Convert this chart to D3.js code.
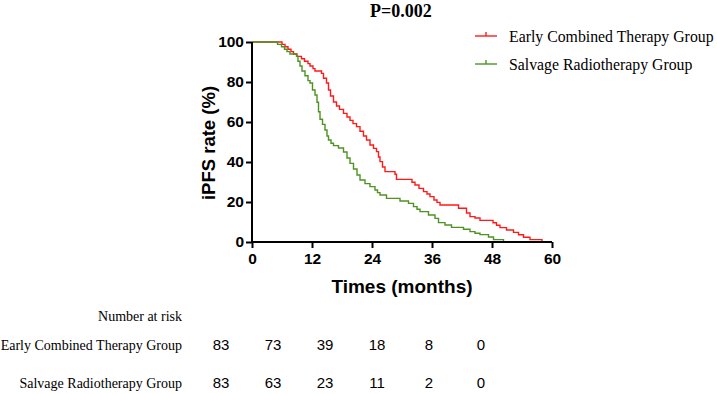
<!DOCTYPE html>
<html>
<head>
<meta charset="utf-8">
<script src="https://d3js.org/d3.v7.min.js"></script>
<style>
body { margin: 0; background: #fff; }
</style>
</head>
<body>
<svg width="717" height="394"></svg>
<script>
// Kaplan-Meier steps: [month, survival % after the step]
var earlyTimes = [0, 6.0, 6.6, 7.2, 7.8, 8.3, 9.0, 9.9, 10.5, 11.2, 11.6, 12.2, 12.6, 13.9, 14.3, 14.9, 15.3, 15.7, 16.3, 16.9, 17.5, 18.3, 19.0, 19.6, 20.2, 20.9, 21.6, 22.3, 22.9, 23.6, 24.3, 24.9, 25.3, 25.6, 26.1, 26.6, 28.6, 28.9, 32.0, 32.6, 33.4, 34.3, 35.0, 35.6, 36.4, 37.0, 37.6, 41.3, 42.9, 43.6, 44.6, 45.6, 48.2, 48.9, 49.6, 50.9, 52.3, 53.3, 54.3, 55.6, 58.0];
var earlySurv = [100, 98.8, 97.6, 96.4, 95.2, 94.0, 92.8, 91.6, 90.4, 89.2, 88.0, 86.7, 85.5, 84.3, 81.9, 79.5, 76.0, 73.0, 70.0, 68.0, 66.3, 64.3, 62.5, 60.8, 59.2, 57.7, 55.4, 53.0, 51.0, 48.5, 46.8, 45.2, 42.5, 40.2, 37.5, 35.2, 33.9, 31.3, 29.9, 28.5, 26.8, 25.2, 24.0, 22.7, 21.0, 19.8, 18.5, 16.9, 14.5, 12.7, 12.0, 10.8, 9.6, 8.4, 7.2, 6.0, 4.8, 3.6, 2.4, 1.2, 0];

var salvageTimes = [0, 5.1, 5.9, 6.5, 7.0, 7.6, 8.9, 9.2, 9.6, 10.0, 10.6, 11.2, 11.6, 12.1, 12.6, 13.0, 13.3, 13.6, 14.1, 14.6, 15.0, 15.3, 15.8, 16.3, 17.3, 18.3, 19.0, 19.6, 20.3, 21.0, 21.6, 22.6, 23.6, 24.6, 25.1, 25.6, 26.9, 29.6, 31.3, 32.3, 33.0, 33.6, 35.3, 36.6, 37.3, 38.6, 39.9, 42.3, 43.6, 44.6, 45.6, 47.3, 48.3, 50.3];
var salvageSurv = [100, 98.8, 97.6, 96.4, 95.2, 94.0, 92.8, 90.4, 88.0, 85.5, 83.1, 80.7, 79.5, 76.0, 73.5, 69.9, 65.1, 61.4, 58.8, 56.0, 53.0, 51.0, 49.4, 48.2, 47.0, 45.0, 42.0, 39.3, 36.5, 33.5, 31.0, 29.2, 27.7, 26.0, 24.7, 23.5, 21.8, 20.5, 19.3, 17.7, 16.4, 15.2, 13.5, 11.8, 9.7, 8.5, 7.3, 6.4, 5.2, 4.4, 3.7, 2.5, 1.2, 0];

var groupNames = ["Early Combined Therapy Group", "Salvage Radiotherapy Group"];
var groupColors = ["#ff1a1a", "#4e9322"];

var xTicks = [0, 12, 24, 36, 48, 60];
var yTicks = [0, 20, 40, 60, 80, 100];

var riskEarly = [83, 73, 39, 18, 8, 0];
var riskSalvage = [83, 63, 23, 11, 2, 0];

var svg = d3.select("svg");
var sans = "Liberation Sans, Arial, sans-serif";
var serif = "Liberation Serif, Times New Roman, serif";

var xScale = d3.scaleLinear().domain([0, 60]).range([252, 552]);
var yScale = d3.scaleLinear().domain([0, 100]).range([242, 42]);

svg.append("text")
.attr("x", 401)
.attr("y", 17)
.attr("text-anchor", "middle")
.attr("font-family", serif)
.attr("font-weight", "bold")
.attr("font-size", "18px")
.text("P=0.002");

// curves
var line = d3.line()
.x(function (d) { return xScale(d[0]); })
.y(function (d) { return yScale(d[1]); })
.curve(d3.curveStepAfter);

var series = [d3.zip(earlyTimes, earlySurv), d3.zip(salvageTimes, salvageSurv)];

svg.selectAll(".km")
.data(series)
.enter()
.append("path")
.attr("class", "km")
.attr("fill", "none")
.attr("stroke", function (d, i) { return groupColors[i]; })
.attr("stroke-width", 1.4)
.attr("d", line);

// axes
var xAxis = svg.append("g")
.attr("transform", "translate(0," + 242 + ")")
.call(d3.axisBottom(xScale).tickValues(xTicks).tickSize(6).tickPadding(5));

var yAxis = svg.append("g")
.attr("transform", "translate(" + 252 + ",0)")
.call(d3.axisLeft(yScale).tickValues(yTicks).tickSize(6).tickPadding(2));

[xAxis, yAxis].forEach(function (ax) {
    ax.select(".domain").attr("stroke", "#000").attr("stroke-width", 2);
    ax.selectAll(".tick line").attr("stroke", "#000").attr("stroke-width", 2);
    ax.selectAll(".tick text")
    .attr("fill", "#000")
    .attr("font-family", sans)
    .attr("font-weight", "bold")
    .attr("font-size", "15.5px");
});
xAxis.select(".domain").attr("d", "M252,0H552");
yAxis.select(".domain").attr("d", "M0,42V242");

svg.append("text")
.attr("x", 402)
.attr("y", 293)
.attr("text-anchor", "middle")
.attr("font-family", sans)
.attr("font-weight", "bold")
.attr("font-size", "19px")
.text("Times (months)");

svg.append("text")
.attr("transform", "translate(215,143) rotate(-90)")
.attr("text-anchor", "middle")
.attr("font-family", sans)
.attr("font-weight", "bold")
.attr("font-size", "18.5px")
.text("iPFS rate (%)");

// legend
var legend = svg.selectAll(".legend")
.data(groupNames)
.enter()
.append("g")
.attr("class", "legend")
.attr("transform", function (d, i) { return "translate(475," + (36 + i * 28) + ")"; });

legend.append("line")
.attr("x1", 0).attr("x2", 22).attr("y1", 0).attr("y2", 0)
.attr("stroke", function (d, i) { return groupColors[i]; })
.attr("stroke-width", 1.4);

legend.append("line")
.attr("x1", 11).attr("x2", 11).attr("y1", 0).attr("y2", -4)
.attr("stroke", function (d, i) { return groupColors[i]; })
.attr("stroke-width", 1.4);

legend.append("text")
.attr("x", 34)
.attr("y", 6)
.attr("font-family", serif)
.attr("font-size", "15.8px")
.text(function (d) { return d; });

// number at risk table
svg.append("text")
.attr("x", 182)
.attr("y", 321)
.attr("text-anchor", "end")
.attr("font-family", serif)
.attr("font-size", "14px")
.text("Number at risk");

var riskRows = [riskEarly, riskSalvage];
var riskX = d3.scalePoint().domain(xTicks).range([221, 481]);

riskRows.forEach(function (row, r) {
    var yPos = 350 + r * 38;
    svg.append("text")
    .attr("x", 182)
    .attr("y", yPos)
    .attr("text-anchor", "end")
    .attr("font-family", serif)
    .attr("font-size", "14px")
    .text(groupNames[r]);

    svg.selectAll(".risk" + r)
    .data(row)
    .enter()
    .append("text")
    .attr("class", "risk" + r)
    .attr("x", function (d, i) { return riskX(xTicks[i]); })
    .attr("y", yPos)
    .attr("text-anchor", "middle")
    .attr("font-family", sans)
    .attr("font-size", "15px")
    .text(function (d) { return d; });
});
</script>
</body>
</html>
